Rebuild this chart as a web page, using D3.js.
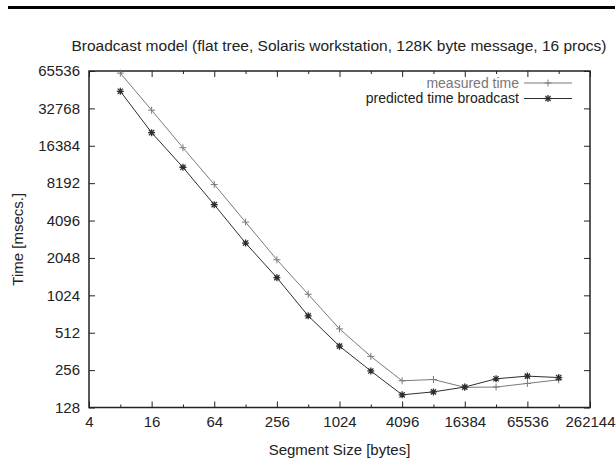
<!DOCTYPE html>
<html><head><meta charset="utf-8">
<script src="https://cdn.jsdelivr.net/npm/d3@7"></script>
<style>body{margin:0;background:#fff}svg{display:block}text{font-family:"Liberation Sans",Arial,sans-serif}</style>
</head><body><svg id="c" width="616" height="474"></svg>
<script>
const segSizes = [8,16,32,64,128,256,512,1024,2048,4096,8192,16384,32768,65536,131072];
const measured = [63000,31700,15800,8000,3980,1980,1045,550,330,210,215,186,187,200,214];
const predicted = [45000,20900,11000,5500,2700,1420,700,399,252,162,171,187,218,229,223];
const xTicks = [4,16,64,256,1024,4096,16384,65536,262144];
const xMinorTicks = [8,32,128,512,2048,8192,32768,131072];
const yTicks = [128,256,512,1024,2048,4096,8192,16384,32768,65536];
const seriesNames = ["measured time","predicted time broadcast"];
const titleText = "Broadcast model (flat tree, Solaris workstation, 128K byte message, 16 procs)";

const svg = d3.select("#c");
const L=89,R=590,T=71,B=407.5;
const x = d3.scaleLog().base(2).domain([4,262144]).range([L,R]);
const y = d3.scaleLog().base(2).domain([128,65536]).range([B,T]);

// top rule
svg.append("rect").attr("x",8).attr("y",6).attr("width",607).attr("height",3).attr("fill","#000");

svg.append("text").attr("x",339).attr("y",51).attr("text-anchor","middle")
  .attr("font-size",15.5).attr("fill","#222").text(titleText);

const fmt = d => String(d);
// bottom axis
const gB = svg.append("g").attr("transform",`translate(0,${B})`)
  .call(d3.axisBottom(x).tickValues(xTicks).tickFormat(fmt).tickSizeInner(-6).tickSizeOuter(0).tickPadding(9));
gB.append("g").call(d3.axisBottom(x).tickValues(xMinorTicks).tickFormat("").tickSizeInner(-3).tickSizeOuter(0));
// top axis
const gT = svg.append("g").attr("transform",`translate(0,${T})`)
  .call(d3.axisTop(x).tickValues(xTicks).tickFormat("").tickSizeInner(-6).tickSizeOuter(0));
gT.append("g").call(d3.axisTop(x).tickValues(xMinorTicks).tickFormat("").tickSizeInner(-3).tickSizeOuter(0));
// left axis
svg.append("g").attr("transform",`translate(${L},0)`)
  .call(d3.axisLeft(y).tickValues(yTicks).tickFormat(fmt).tickSizeInner(-6).tickSizeOuter(0).tickPadding(9));
// right axis
svg.append("g").attr("transform",`translate(${R},0)`)
  .call(d3.axisRight(y).tickValues(yTicks).tickFormat("").tickSizeInner(-6).tickSizeOuter(0));

svg.selectAll(".domain").remove();
svg.selectAll(".tick line").attr("stroke","#222").attr("stroke-width",1);
svg.selectAll(".tick text").attr("font-size",15).attr("fill","#222").attr("font-family","Liberation Sans, Arial, sans-serif");

svg.append("rect").attr("x",L).attr("y",T).attr("width",R-L).attr("height",B-T)
  .attr("fill","none").attr("stroke","#222").attr("stroke-width",1.5);

svg.append("text").attr("transform",`translate(23,${(T+B)/2}) rotate(-90)`).attr("text-anchor","middle")
  .attr("font-size",15).attr("fill","#222").text("Time [msecs.]");
svg.append("text").attr("x",(L+R)/2).attr("y",455).attr("text-anchor","middle")
  .attr("font-size",15).attr("fill","#222").text("Segment Size [bytes]");

const line = d3.line().x(d=>x(d[0])).y(d=>y(d[1]));
const colors = ["#7a7a7a","#2e2e2e"];
const datasets = [measured, predicted];

function plus(g,cx,cy,s,c){
  g.append("path").attr("d",`M${cx-s},${cy}H${cx+s}M${cx},${cy-s}V${cy+s}`).attr("stroke",c).attr("stroke-width",1).attr("fill","none");
}
function star(g,cx,cy,s,c){
  const d=s*0.75;
  g.append("path").attr("d",`M${cx-s},${cy}H${cx+s}M${cx},${cy-s}V${cy+s}M${cx-d},${cy-d}L${cx+d},${cy+d}M${cx-d},${cy+d}L${cx+d},${cy-d}`)
   .attr("stroke",c).attr("stroke-width",1.3).attr("fill","none");
}

datasets.forEach((vals,i)=>{
  const pts = segSizes.map((s,j)=>[s,vals[j]]);
  const g = svg.append("g");
  g.append("path").attr("d",line(pts)).attr("fill","none").attr("stroke",colors[i]).attr("stroke-width",1);
  pts.forEach(p=>{ i===0 ? plus(g,x(p[0]),y(p[1]),3.5,colors[i]) : star(g,x(p[0]),y(p[1]),3.5,colors[i]); });
});

// legend
const lg = svg.append("g");
[0,1].forEach(i=>{
  const ly = 83 + i*15.5;
  lg.append("text").attr("x",519).attr("y",ly).attr("dy","0.35em").attr("text-anchor","end")
    .attr("font-size",14).attr("fill",i===0?"#777":"#222").text(seriesNames[i]);
  lg.append("line").attr("x1",524).attr("x2",572).attr("y1",ly).attr("y2",ly).attr("stroke",colors[i]).attr("stroke-width",1);
  i===0 ? plus(lg,548,ly,3.5,colors[i]) : star(lg,548,ly,3.5,colors[i]);
});
</script></body></html>
